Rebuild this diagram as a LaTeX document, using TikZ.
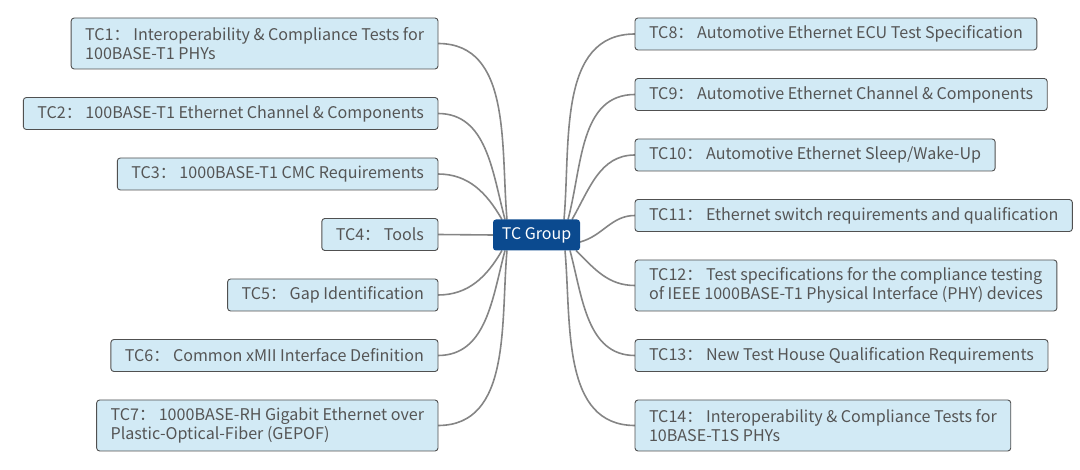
\documentclass[tikz,border=0pt]{standalone}
\usepackage{fontspec}
\setmainfont{Noto Sans CJK SC}
\usetikzlibrary{positioning, backgrounds}
\definecolor{leaffill}{HTML}{D2EAF5}
\definecolor{leafline}{HTML}{505050}
\definecolor{leaftext}{HTML}{555555}
\definecolor{topicfill}{HTML}{0B4A8F}
\definecolor{branchgray}{HTML}{858585}
\tikzset{
    subtopic/.style={draw=leafline, fill=leaffill, text=leaftext, rounded corners=3pt,
        line width=0.9pt, align=left, minimum height=32pt, inner xsep=14pt, inner ysep=6pt,
        outer sep=0pt, font=\fontsize{16.1}{19}\selectfont},
    twoline/.style={minimum height=51pt},
    topic/.style={fill=topicfill, text=white, rounded corners=3pt, minimum width=87pt,
        minimum height=31pt, outer sep=0pt, font=\fontsize{16}{19}\selectfont},
    branch/.style={draw=branchgray, line width=1.6pt}
}

\begin{document}
\begin{tikzpicture}[x=1pt, y=-1pt]
        \useasboundingbox (0,0) rectangle (1080,470);

        % Draw the central topic
        \node[topic] (grp) at (536.5,235) {TC Group};

        % Draw the left column
        \node[subtopic, twoline, anchor=north east] (tc1) at (438,18) {TC1： Interoperability \& Compliance Tests for\\100BASE-T1 PHYs};
        \node[subtopic, below=28.5pt of tc1.south east, anchor=north east] (tc2) {TC2： 100BASE-T1 Ethernet Channel \& Components};
        \node[subtopic, below=28.5pt of tc2.south east, anchor=north east] (tc3) {TC3： 1000BASE-T1 CMC Requirements};
        \node[subtopic, below=28.5pt of tc3.south east, anchor=north east] (tc4) {TC4： Tools};
        \node[subtopic, below=28.5pt of tc4.south east, anchor=north east] (tc5) {TC5： Gap Identification};
        \node[subtopic, below=28.5pt of tc5.south east, anchor=north east] (tc6) {TC6： Common xMII Interface Definition};
        \node[subtopic, twoline, below=28.5pt of tc6.south east, anchor=north east] (tc7) {TC7： 1000BASE-RH Gigabit Ethernet over\\Plastic-Optical-Fiber (GEPOF)};

        % Draw the right column
        \node[subtopic, anchor=north west] (tc8) at (635,18) {TC8： Automotive Ethernet ECU Test Specification};
        \node[subtopic, below=28.5pt of tc8.south west, anchor=north west]  (tc9)  {TC9： Automotive Ethernet Channel \& Components};
        \node[subtopic, below=28.5pt of tc9.south west, anchor=north west]  (tc10) {TC10： Automotive Ethernet Sleep/Wake-Up};
        \node[subtopic, below=28.5pt of tc10.south west, anchor=north west] (tc11) {TC11： Ethernet switch requirements and qualification};
        \node[subtopic, twoline, below=28.5pt of tc11.south west, anchor=north west] (tc12) {TC12： Test specifications for the compliance testing\\of IEEE 1000BASE-T1 Physical Interface (PHY) devices};
        \node[subtopic, below=28.5pt of tc12.south west, anchor=north west] (tc13) {TC13： New Test House Qualification Requirements};
        \node[subtopic, twoline, below=28.5pt of tc13.south west, anchor=north west] (tc14) {TC14： Interoperability \& Compliance Tests for\\10BASE-T1S PHYs};

        % Connect the topic with its branches
        \begin{scope}[on background layer]
        \draw[branch]
            ([xshift=14pt]grp.north west) edge[out=95, in=0] (tc1.east)
            ([xshift=12pt]grp.north west) edge[out=105, in=0] (tc2.east)
            ([xshift=9pt]grp.north west)  edge[out=120, in=0] (tc3.east)
            (grp.west) edge (tc4.east)
            ([xshift=9pt]grp.south west)  edge[out=-120, in=0] (tc5.east)
            ([xshift=12pt]grp.south west) edge[out=-105, in=0] (tc6.east)
            ([xshift=14pt]grp.south west) edge[out=-95, in=0] (tc7.east)

            ([xshift=-16pt]grp.north east) edge[out=85, in=180] (tc8.west)
            ([xshift=-12pt]grp.north east) edge[out=75, in=180] (tc9.west)
            ([xshift=-8pt]grp.north east)  edge[out=60, in=180] (tc10.west)
            ([yshift=-7pt]grp.east)        edge[out=15, in=180] (tc11.west)
            ([xshift=-4pt]grp.south east)  edge[out=-45, in=180] (tc12.west)
            ([xshift=-10pt]grp.south east) edge[out=-75, in=180] (tc13.west)
            ([xshift=-15pt]grp.south east) edge[out=-85, in=180] (tc14.west);
        \end{scope}
    \end{tikzpicture}
\end{document}
